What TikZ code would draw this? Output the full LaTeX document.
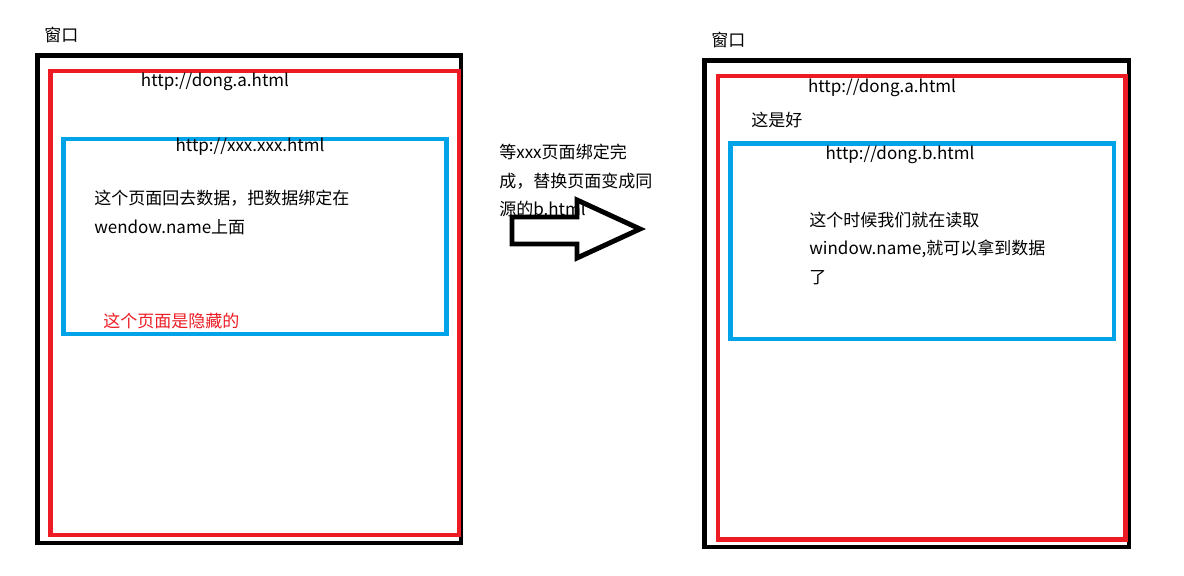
\documentclass[tikz,border=0pt]{standalone}
\usepackage{fontspec}
\newfontfamily\cjk{Noto Sans CJK SC}
\usetikzlibrary{positioning}

\begin{document}
\begin{tikzpicture}[x=0.025cm, y=-0.025cm]
      \tikzstyle{winbox}=[rectangle, draw=black, line width=3.5pt, anchor=north west, inner sep=0pt, outer sep=0pt]
      \tikzstyle{pagebox}=[rectangle, draw={rgb,255:red,237;green,28;blue,36}, line width=3.5pt, anchor=north west, inner sep=0pt, outer sep=0pt]
      \tikzstyle{framebox}=[rectangle, draw={rgb,255:red,0;green,162;blue,232}, line width=3.5pt, anchor=north west, inner sep=0pt, outer sep=0pt]
      \tikzstyle{txt}=[anchor=west, inner sep=0pt, font=\cjk\fontsize{12.1}{14}\selectfont]
      \tikzstyle{url}=[inner sep=0pt, font=\cjk\fontsize{12.1}{14}\selectfont]
      \tikzstyle{bigarrow}=[line width=3.5pt, line join=miter]

      \useasboundingbox (0,0) rectangle (1184,576);

      % left window
      \node[winbox, minimum width=423.5*0.025cm, minimum height=487.5*0.025cm] (winA) at (37.5,55.5) {};
      \node[pagebox, minimum width=408.5*0.025cm, minimum height=464*0.025cm] (pageA) at (50.5,71) {};
      \node[framebox, minimum width=383*0.025cm, minimum height=195*0.025cm] (frameA) at (63.5,139) {};
      \node[txt] (titleA) at (44,35) {窗口};
      \node[url] (urlA) at (215,82) {http://dong.a.html};
      \node[url] (urlX) at (250,147) {http://xxx.xxx.html};
      \node[txt] (dataA) at (94,198) {这个页面回去数据，把数据绑定在};
      \node[txt] (dataB) at (94,227) {wendow.name上面};
      \node[txt, text={rgb,255:red,237;green,28;blue,36}] (hidden) at (103,321) {这个页面是隐藏的};

      % middle
      \node[txt] (stepA) at (499,152) {等xxx页面绑定完};
      \node[txt] (stepB) at (499,181) {成，替换页面变成同};
      \node[txt] (stepC) at (499,209) {源的b.html};
      \draw[bigarrow] (512,217) -- (577,217) -- (577,200) -- (640,229) -- (577,258) -- (577,244) -- (512,244) -- cycle;

      % right window
      \node[winbox, minimum width=424.3*0.025cm, minimum height=486.5*0.025cm] (winB) at (704.7,60.5) {};
      \node[pagebox, minimum width=407.5*0.025cm, minimum height=463.5*0.025cm] (pageB) at (718,76) {};
      \node[framebox, minimum width=383.5*0.025cm, minimum height=195.5*0.025cm] (frameB) at (730.5,143.5) {};
      \node[txt] (titleB) at (711,40) {窗口};
      \node[url] (urlB) at (882,88) {http://dong.a.html};
      \node[txt] (good) at (751,120) {这是好};
      \node[url] (urlC) at (900,155) {http://dong.b.html};
      \node[txt] (readA) at (809,220) {这个时候我们就在读取};
      \node[txt] (readB) at (809,249) {window.name,就可以拿到数据};
      \node[txt] (readC) at (809,278) {了};
    \end{tikzpicture}
\end{document}
